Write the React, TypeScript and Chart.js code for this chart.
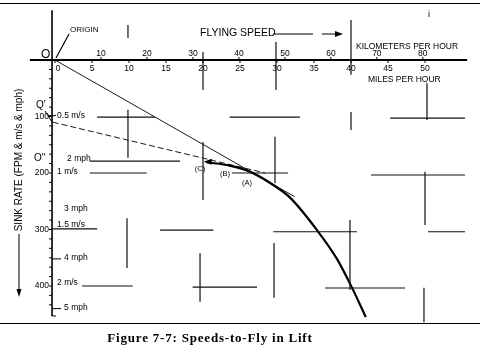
import React, { useEffect, useRef } from "react";
import { Chart, registerables } from "chart.js";
Chart.register(...registerables);

// Glide polar (shifted for lift): flying speed in mph, sink rate in FPM
const polarMph = [20.5, 23.6, 26.4, 29.7, 31.8, 35.4, 38.1, 40.1, 42.0];
const polarSink = [181, 187, 198, 223, 244, 301, 352, 402, 455];

// Tangent from origin O and dashed tangent from Q'
const tangentOMph = [0, 32.4];
const tangentOSink = [0, 242];
const tangentQMph = [-0.3, 28.4];
const tangentQSink = [110, 200];

// Axis ticks
const mphTicks = [0, 5, 10, 15, 20, 25, 30, 35, 40, 45, 50];
const kmhTicks = [10, 20, 30, 40, 50, 60, 70, 80];
const fpmTicks = [100, 200, 300, 400];
const mphSinkLabels = [2, 3, 4, 5];
const msSinkLabels = [0.5, 1, 1.5, 2];

// Reference cross-hair marks: vertical [mph, fpmFrom, fpmTo], horizontal [fpm, mphFrom, mphTo]
const gridV = [
  [9.86, -62, -39], [9.86, 88, 173], [20.0, -14, 53], [29.86, -32, 53],
  [40.0, -71, 26], [40.0, 92, 124], [50.27, 41, 106], [20.0, 145, 248],
  [29.73, 136, 218], [50.0, 198, 292], [9.73, 280, 368], [19.6, 342, 428],
  [29.6, 324, 421], [39.86, 283, 407], [49.86, 403, 464],
];
const gridH = [
  [101, 5.7, 13.5], [101, 23.6, 33.1], [103, 45.3, 55.4], [179, 4.7, 16.9],
  [200, 4.7, 12.4], [200, 23.9, 31.5], [203.5, 42.7, 55.4], [301, 14.2, 21.4],
  [304, 29.5, 40.8], [304, 50.4, 55.4], [400, 3.65, 10.5], [402, 18.6, 27.3],
  [403.5, 36.5, 47.3], [299, -0.4, 5.7],
];

const FPM_PER_MPH = 88;
const FPM_PER_MS = 196.85;
const KMH_PER_MPH = 1.609344;
const SANS = '"Liberation Sans", Arial, sans-serif';

function segData(): any[] {
  const d: any[] = [];
  gridV.forEach(([x, a, b]) => { d.push({ x, y: a }, { x, y: b }, { x, y: null }); });
  gridH.forEach(([y, a, b]) => { d.push({ x: a, y }, { x: b, y }, { x: b, y: null }); });
  return d;
}

const drawPlugin = {
  id: "figureDecor",
  afterDatasetsDraw(chart: any) {
    const ctx: any = chart.ctx;
    const xs = chart.scales.x;
    const ys = chart.scales.y;
    const X = (v: number) => xs.getPixelForValue(v);
    const Y = (v: number) => ys.getPixelForValue(v);
    ctx.save();
    ctx.strokeStyle = "#000";
    ctx.fillStyle = "#000";
    const line = (x1: number, y1: number, x2: number, y2: number, w = 1) => {
      ctx.lineWidth = w;
      ctx.beginPath();
      ctx.moveTo(x1, y1);
      ctx.lineTo(x2, y2);
      ctx.stroke();
    };
    const text = (t: string, x: number, y: number, size: number, align: CanvasTextAlign = "left", font = SANS, weight = "") => {
      ctx.font = `${weight} ${size}px ${font}`.trim();
      ctx.textAlign = align;
      ctx.textBaseline = "middle";
      ctx.fillText(t, x, y);
    };

    // frame lines
    line(0, 3.5, 480, 3.5, 1.2);
    line(0, 323.5, 480, 323.5, 1.2);

    // axes
    const x0 = X(-0.4);
    const y0 = Y(0);
    line(X(-3.4), y0, X(55.7), y0, 2);
    line(x0, Y(-88), x0, Y(453), 1.6);
    line(x0, Y(453), x0 + 4, Y(453), 1);

    // minor ticks on sink axis
    for (let f = 0; f <= 450; f += 100 / 6) {
      line(x0 - 3, Y(f), x0, Y(f), 1);
    }
    // ticks on speed axis
    mphTicks.forEach((m) => line(X(m), y0, X(m), y0 + 3, 1));
    kmhTicks.forEach((k) => line(X(k / KMH_PER_MPH), y0 - 3, X(k / KMH_PER_MPH), y0, 1));

    // speed tick labels
    mphTicks.forEach((m) => text(String(m), m === 0 ? X(m) + 3 : X(m), y0 + 9, 8.5, "center"));
    kmhTicks.forEach((k) => text(String(k), X(k / KMH_PER_MPH), y0 - 6, 8.5, "center"));

    // sink tick labels
    fpmTicks.forEach((f) => text(String(f), x0 - 3, Y(f), 8.5, "right"));
    mphSinkLabels.forEach((m) => {
      const yy = Y(m * FPM_PER_MPH);
      if (m === 4 || m === 5) line(x0, yy, x0 + 9, yy, 1);
      text(`${m} mph`, x0 + (m === 2 ? 15 : 12), yy - 1, 8.5);
    });
    msSinkLabels.forEach((s) => {
      const yy = Y(s * FPM_PER_MS);
      if (s === 0.5) line(x0 - 4, yy, x0 + 4, yy, 1);
      text(`${s} m/s`, x0 + 5, yy - (s === 1.5 ? 2 : 0), 8.5);
    });

    // point labels
    text("O", 41, 55, 12);
    text("Q'", 36, 105, 10);
    text("O''", 34, 158, 10);
    line(45, 111, x0, Y(tangentQSink[0]), 1);

    // ORIGIN
    text("ORIGIN", 70, 30, 8);
    line(X(0) + 1, y0 - 2, 69, 34, 1.2);

    // FLYING SPEED arrow
    text("FLYING SPEED", 200, 33, 10.5);
    line(273, 34, 313, 34, 1);
    line(322, 34, 337, 34, 1);
    ctx.beginPath();
    ctx.moveTo(343, 34);
    ctx.lineTo(335, 31);
    ctx.lineTo(335, 37);
    ctx.closePath();
    ctx.fill();

    text("KILOMETERS PER HOUR", 356, 47, 8.5);
    text("MILES PER HOUR", 368, 80, 8.5);
    text("i", 428, 15, 9);

    // sink rate axis title
    ctx.save();
    ctx.translate(19, 160);
    ctx.rotate(-Math.PI / 2);
    text("SINK RATE (FPM & m/s & mph)", 0, 0, 10, "center");
    ctx.restore();
    line(19, 234, 19, 290, 1);
    ctx.beginPath();
    ctx.moveTo(19, 297);
    ctx.lineTo(16.5, 289);
    ctx.lineTo(21.5, 289);
    ctx.closePath();
    ctx.fill();

    // arrowhead at start of polar
    const ax = X(polarMph[0]);
    const ay = Y(polarSink[0]);
    ctx.beginPath();
    ctx.moveTo(ax - 3, ay - 0.5);
    ctx.lineTo(ax + 5, ay - 3.5);
    ctx.lineTo(ax + 5, ay + 2.5);
    ctx.closePath();
    ctx.fill();

    // circled letters
    text("(C)", 200, 169, 7.5, "center");
    text("(B)", 225, 174, 7.5, "center");
    text("(A)", 247, 183, 7.5, "center");

    // caption
    ctx.letterSpacing = "0.8px";
    text("Figure 7-7: Speeds-to-Fly in Lift", 210, 339, 13, "center", '"Liberation Serif", "Times New Roman", serif', "bold");
    ctx.letterSpacing = "0px";

    ctx.restore();
  },
};

export default function App() {
  const ref = useRef<HTMLCanvasElement | null>(null);
  useEffect(() => {
    if (!ref.current) return;
    const chart = new Chart(ref.current, {
      type: "scatter",
      data: {
        datasets: [
          {
            label: "cross-hairs",
            data: segData(),
            showLine: true,
            spanGaps: false,
            borderColor: "#111",
            borderWidth: 1.2,
            pointRadius: 0,
          },
          {
            label: "tangent O",
            data: tangentOMph.map((x, i) => ({ x, y: tangentOSink[i] })),
            showLine: true,
            borderColor: "#000",
            borderWidth: 0.9,
            pointRadius: 0,
          },
          {
            label: "tangent Q'",
            data: tangentQMph.map((x, i) => ({ x, y: tangentQSink[i] })),
            showLine: true,
            borderColor: "#000",
            borderWidth: 0.9,
            borderDash: [6, 3],
            pointRadius: 0,
          },
          {
            label: "polar",
            data: polarMph.map((x, i) => ({ x, y: polarSink[i] })),
            showLine: true,
            borderColor: "#000",
            borderWidth: 2.2,
            cubicInterpolationMode: "monotone",
            pointRadius: 0,
          },
        ],
      } as any,
      options: {
        animation: false,
        responsive: false,
        devicePixelRatio: 1,
        layout: { padding: 0 },
        plugins: { legend: { display: false }, tooltip: { enabled: false } },
        scales: {
          x: { type: "linear", display: false, min: -55 / 7.4, max: 425 / 7.4 },
          y: { type: "linear", display: false, reverse: true, min: -60 / 0.565, max: 292 / 0.565 },
        },
      } as any,
      plugins: [drawPlugin],
    });
    return () => chart.destroy();
  }, []);
  return (
    <div style={{ position: "fixed", left: 0, top: 0, width: 480, height: 352, background: "#fff" }}>
      <canvas ref={ref} width={480} height={352} style={{ display: "block" }} />
    </div>
  );
}
